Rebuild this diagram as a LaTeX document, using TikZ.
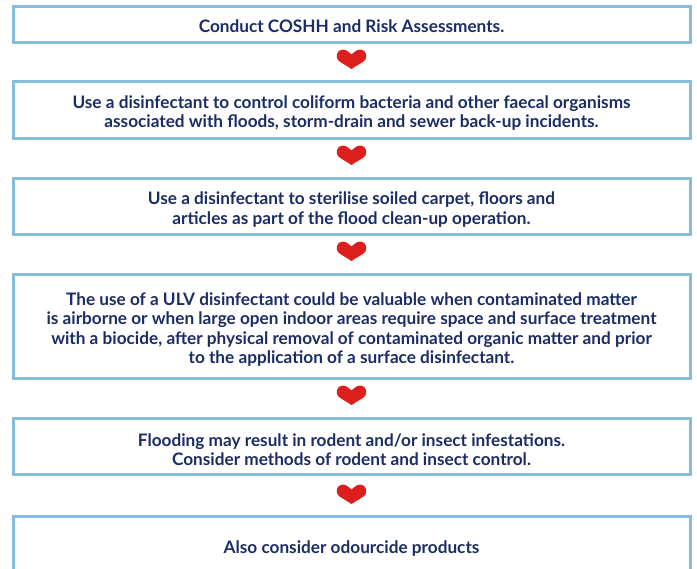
\documentclass[tikz,border=0pt]{standalone}
\usepackage{fontspec}
\setmainfont{Lato}
\definecolor{boxblue}{RGB}{135,188,218}
\definecolor{inkblue}{RGB}{27,45,100}
\definecolor{heartred}{RGB}{220,30,28}
\newcommand{\liftone}{\rule{0pt}{16.5pt}}
\newcommand{\liftmany}{\rule{0pt}{18pt}}
\tikzset{
  stepbox/.style={draw=boxblue,line width=3pt,fill=white,minimum width=677pt,inner sep=0pt,
    align=center,text=inkblue,font=\fontsize{17.2}{19.4}\selectfont\bfseries},
  hrt/.pic={\fill[heartred,line join=round]
    (0,10) -- (-12,2.5)
    .. controls (-15,0) and (-15,-3) .. (-14.5,-5)
    .. controls (-13.5,-9) and (-9,-10) .. (-6,-9)
    .. controls (-3.5,-8.2) and (-1.5,-5.5) .. (0,-4.5)
    .. controls (1.5,-5.5) and (3.5,-8.2) .. (6,-9)
    .. controls (9,-10) and (13.5,-9) .. (14.5,-5)
    .. controls (15,-3) and (15,0) .. (12,2.5) -- cycle;}
}
\begin{document}
\begin{tikzpicture}[x=1pt,y=-1pt]
\useasboundingbox (0,0) rectangle (697,569);
\clip (0,0) rectangle (697,569);
\node[stepbox,minimum height=36pt] (a) at (351.5,24.5) {\liftone Conduct COSHH and Risk Assessments.};
\node[stepbox,minimum height=57pt] (b) at (351.5,110.5) {\liftmany Use a disinfectant to control coliform bacteria and other faecal organisms\\associated with floods, storm-drain and sewer back-up incidents.};
\node[stepbox,minimum height=56pt] (c) at (351.5,207) {\liftmany Use a disinfectant to sterilise soiled carpet, floors and\\articles as part of the flood clean-up operation.};
\node[stepbox,minimum height=104pt] (d) at (351.5,327) {\liftmany The use of a ULV disinfectant could be valuable when contaminated matter\\is airborne or when large open indoor areas require space and surface treatment\\with a biocide, after physical removal of contaminated organic matter and prior\\to the application of a surface disinfectant.};
\node[stepbox,minimum height=56pt] (e) at (351.5,447) {\liftmany Flooding may result in rodent and/or insect infestations.\\Consider methods of rodent and insect control.};
\node[stepbox,minimum height=60pt] (f) at (351.5,547) {\liftone Also consider odourcide products};
\coordinate (h1) at (351.5,59);
\coordinate (h2) at (351.5,155);
\coordinate (h3) at (351.5,251);
\coordinate (h4) at (351.5,395);
\coordinate (h5) at (351.5,494);
\foreach \h in {h1,h2,h3,h4,h5} \pic at (\h) {hrt};
\end{tikzpicture}
\end{document}
